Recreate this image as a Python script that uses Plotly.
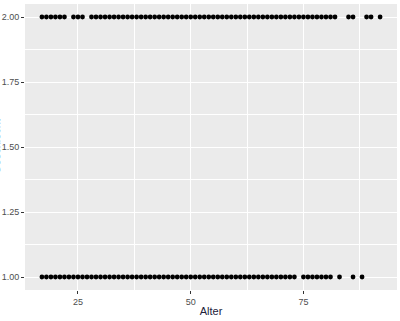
import plotly.graph_objects as go

# Data: ages present for each value
ages_2 = list(range(17, 23)) + list(range(24, 27)) + list(range(28, 83)) + [85, 86, 89, 90, 92]
ages_1 = list(range(17, 74)) + list(range(75, 82)) + [83, 86, 88]
x_ticks = [25, 50, 75]
y_ticks = [1.0, 1.25, 1.5, 1.75, 2.0]
x_title = "Alter"
y_title = "Geschlecht"

xs = ages_2 + ages_1
ys = [2.0] * len(ages_2) + [1.0] * len(ages_1)

fig = go.Figure()
fig.add_trace(go.Scatter(
    x=xs, y=ys, mode="markers",
    marker=dict(color="black", size=4.8, line=dict(width=0)),
    showlegend=False, hoverinfo="skip",
))

axis_common = dict(
    showgrid=True, gridcolor="white", gridwidth=1.1,
    zeroline=False, showline=False,
    ticks="outside", ticklen=3, tickwidth=1, tickcolor="#333333",
    tickfont=dict(family="Liberation Sans, Arial, sans-serif", size=9, color="#4d4d4d"),
)

fig.update_layout(
    width=400, height=321,
    margin=dict(l=25, r=3, t=4, b=31),
    paper_bgcolor="white", plot_bgcolor="#EBEBEB",
    xaxis=dict(
        range=[13.25, 95.75], tickvals=x_ticks, ticktext=[str(v) for v in x_ticks],
        minor=dict(tickvals=[12.5, 37.5, 62.5, 87.5], showgrid=True, gridcolor="white", gridwidth=0.5, ticks=""),
        title=dict(text=x_title, standoff=1,
                   font=dict(family="Liberation Sans, Arial, sans-serif", size=11, color="#22223a")),
        **axis_common,
    ),
    yaxis=dict(
        range=[0.95, 2.05], tickvals=y_ticks, ticktext=[f"{v:.2f}" for v in y_ticks],
        minor=dict(tickvals=[1.125, 1.375, 1.625, 1.875], showgrid=True, gridcolor="white", gridwidth=0.5, ticks=""),
        **axis_common,
    ),
    annotations=[dict(
        text=y_title, xref="paper", yref="paper", x=-29 / 372, y=0.5,
        xanchor="center", yanchor="middle", textangle=-90, showarrow=False,
        font=dict(family="Liberation Sans, Arial, sans-serif", size=11, color="#22226a"),
    )],
)

fig.write_html("out.html")
